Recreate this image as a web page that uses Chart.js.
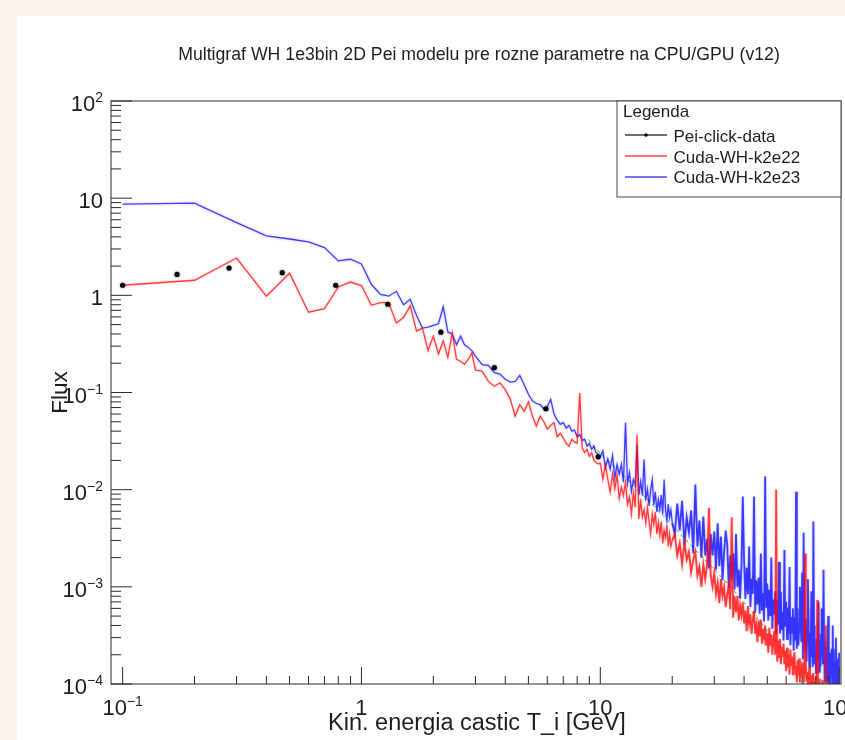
<!DOCTYPE html>
<html lang="sk">
<head>
<meta charset="utf-8">
<title>Multigraf WH 1e3bin 2D</title>
<script src="https://cdn.jsdelivr.net/npm/chart.js@4.4.0/dist/chart.umd.min.js"></script>
<style>
  html, body { margin: 0; padding: 0; background: #fcf1ed; }
  #graf { display: block; }
</style>
</head>
<body>
<canvas id="graf" width="845" height="740"></canvas>
<script>
// Texty grafu
const nazov = 'Multigraf WH 1e3bin 2D Pei modelu pre rozne parametre na CPU/GPU (v12)';
const osX = 'Kin. energia castic T_i [GeV]';
const osY = 'Flux';

// Rozsah osi (log)
const xMin = 0.0894;
const xMax = 101.8;
const yMin = 1e-4;
const yMax = 1e2;

// Hlavne dieliky a ich popisky [zaklad, exponent]
const xTicks = [0.1, 1, 10, 100];
const xTickLabels = [['10', '\u22121'], ['1', ''], ['10', ''], ['10', '2']];
const yTicks = [1e-4, 1e-3, 1e-2, 1e-1, 1, 10, 100];
const yTickLabels = [['10', '\u22124'], ['10', '\u22123'], ['10', '\u22122'], ['10', '\u22121'], ['1', ''], ['10', ''], ['10', '2']];
const minorSteps = [2, 3, 4, 5, 6, 7, 8, 9];

// Pei-click-data
const peiEnergia = [0.1, 0.169, 0.279, 0.466, 0.78, 1.29, 2.15, 3.6, 5.92, 9.8];
const peiFlux = [1.27, 1.64, 1.91, 1.71, 1.27, 0.81, 0.418, 0.18, 0.068, 0.0218];

// Energie binov (GeV), spolocne pre obe Cuda krivky
const energia = [
  0.1, 0.2, 0.3, 0.4, 0.5, 0.6, 0.7, 0.8, 0.9, 1.0,
  1.1, 1.2, 1.3, 1.4, 1.5, 1.6, 1.7, 1.8, 1.9, 2.0,
  2.1, 2.2, 2.3, 2.4, 2.5, 2.6, 2.7, 2.8, 2.9, 3.0,
  3.2, 3.4, 3.6, 3.8, 4.0, 4.2, 4.4, 4.6, 4.8, 5.0,
  5.2, 5.4, 5.6, 5.8, 6.0, 6.2, 6.4, 6.6, 6.8, 7.0,
  7.2, 7.4, 7.6, 7.8, 8.0, 8.2, 8.4, 8.6, 8.8, 9.0,
  9.2, 9.4, 9.6, 9.8,
  10, 10.25, 10.5, 10.75, 11, 11.25, 11.5, 11.75, 12, 12.25,
  12.5, 12.75, 13, 13.25, 13.5, 13.75, 14, 14.25, 14.5, 14.75,
  15, 15.25, 15.5, 15.75, 16, 16.25, 16.5, 16.75, 17, 17.25,
  17.5, 17.75, 18, 18.25, 18.5, 18.75, 19, 19.25, 19.5, 19.75,
  20,
  20.5, 21, 21.5, 22, 22.5, 23, 23.5, 24, 24.5, 25,
  25.5, 26, 26.5, 27, 27.5, 28, 28.5, 29, 29.5, 30,
  30.5, 31, 31.5, 32, 32.5, 33, 33.5, 34, 34.5, 35,
  35.5, 36, 36.5, 37, 37.5, 38, 38.5, 39, 39.5, 40,
  40.5, 41, 41.5, 42, 42.5, 43, 43.5, 44, 44.5, 45,
  45.5, 46, 46.5, 47, 47.5, 48, 48.5, 49, 49.5, 50,
  50.5, 51, 51.5, 52, 52.5, 53, 53.5, 54, 54.5, 55,
  55.5, 56, 56.5, 57, 57.5, 58, 58.5, 59, 59.5, 60,
  60.5, 61, 61.5, 62, 62.5, 63, 63.5, 64, 64.5, 65,
  65.5, 66, 66.5, 67, 67.5, 68, 68.5, 69, 69.5, 70,
  70.5, 71, 71.5, 72, 72.5, 73, 73.5, 74, 74.5, 75,
  75.5, 76, 76.5, 77, 77.5, 78, 78.5, 79, 79.5, 80,
  80.5, 81, 81.5, 82, 82.5, 83, 83.5, 84, 84.5, 85,
  85.5, 86, 86.5, 87, 87.5, 88, 88.5, 89, 89.5, 90,
  90.5, 91, 91.5, 92, 92.5, 93, 93.5, 94, 94.5, 95,
  95.5, 96, 96.5, 97, 97.5, 98, 98.5, 99, 99.5, 100
];

// Cuda-WH-k2e22 (cervena)
const fluxK2e22 = [
  1.27, 1.43, 2.42, 0.98, 1.69, 0.67, 0.73, 1.22, 1.37, 1.26,
  0.79, 0.84, 0.84, 0.52, 0.59, 0.78, 0.43, 0.46, 0.27, 0.38,
  0.25, 0.34, 0.23, 0.41, 0.22, 0.21, 0.195, 0.22, 0.256, 0.17,
  0.166, 0.13, 0.116, 0.126, 0.107, 0.085, 0.057, 0.075, 0.064, 0.08,
  0.057, 0.045, 0.057, 0.05, 0.042, 0.046, 0.049, 0.035, 0.038, 0.034,
  0.03, 0.028, 0.033, 0.031, 0.03, 0.099, 0.027, 0.024, 0.026, 0.022,
  0.024, 0.02, 0.019, 0.0185,
  0.0187, 0.0128, 0.0180, 0.0128, 0.0094, 0.0145, 0.0102, 0.0142, 0.0081, 0.0107,
  0.0087, 0.0120, 0.0070, 0.0084, 0.0056, 0.0092, 0.0066, 0.0370, 0.0050, 0.0080,
  0.0052, 0.0062, 0.0045, 0.0066, 0.0047, 0.0035, 0.0056, 0.0044, 0.0059, 0.0035,
  0.0046, 0.0034, 0.0047, 0.0028, 0.0038, 0.0032, 0.0043, 0.0026, 0.0035, 0.0026,
  0.0030,
  3.5e-3, 2.1e-3, 2.8e-3, 1.7e-3, 2.9e-3, 1.9e-3, 2.3e-3, 1.4e-3, 1.9e-3, 2.3e-3,
  1.3e-3, 1.6e-3, 1.0e-3, 1.7e-3, 1.2e-3, 1.7e-3, 6.5e-3, 1.3e-3, 1.0e-3, 1.4e-3,
  8.4e-4, 1.1e-3, 6.8e-4, 1.2e-3, 8.0e-4, 9.9e-4, 6.2e-4, 8.4e-4, 1.04e-3, 5.9e-4,
  5.2e-3, 4.8e-4, 8.0e-4, 5.5e-4, 8.1e-4, 4.5e-4, 6.4e-4, 5.1e-4, 6.9e-4, 4.2e-4,
  5.7e-4, 3.5e-4, 6.3e-4, 4.2e-4, 5.2e-4, 3.3e-4, 4.5e-4, 5.7e-4, 3.3e-4, 4.0e-4,
  2.7e-4, 4.5e-4, 3.1e-4, 4.6e-4, 2.6e-4, 3.7e-4, 3.0e-4, 4.0e-4, 2.5e-4, 3.3e-4,
  2.1e-4, 3.8e-4, 2.5e-4, 3.2e-4, 2.0e-4, 2.8e-4, 3.5e-4, 2.0e-4, 1.0e-2, 1.7e-4,
  2.8e-4, 1.9e-4, 2.9e-4, 1.6e-4, 2.4e-4, 1.9e-4, 2.6e-4, 1.6e-4, 2.2e-4, 1.35e-4,
  2.36e-4, 1.48e-4, 1.99e-4, 1.25e-4, 2.26e-4, 1.54e-4, 1.92e-4, 1.23e-4, 1.69e-4, 2.13e-4,
  1.24e-4, 1.52e-4, 1.04e-4, 1.75e-4, 1.22e-4, 1.83e-4, 1.04e-4, 1.50e-4, 1.20e-4, 1.64e-4,
  1.61e-4, 1.02e-4, 1.36e-4, 2.2e-3, 1.56e-4, 1.06e-4, 1.33e-4, 8.6e-5, 1.18e-4, 1.49e-4,
  8.7e-5, 1.07e-4, 7.4e-5, 1.24e-4, 8.6e-5, 1.30e-4, 7.4e-5, 1.07e-4, 8.6e-5, 1.17e-4,
  1.16e-4, 7.3e-4, 9.8e-5, 6.2e-5, 1.13e-4, 7.7e-5, 9.7e-5, 6.2e-5, 8.6e-5, 1.09e-4,
  6.4e-5, 7.9e-5, 5.4e-5, 9.2e-5, 6.4e-5, 4.0e-4, 5.5e-5, 7.9e-5, 6.4e-5, 8.75e-5,
  8.6e-5, 5.5e-5, 7.4e-5, 4.7e-5, 8.5e-5, 5.8e-5, 7.4e-5, 4.7e-5, 6.5e-5, 8.2e-5,
  4.8e-5, 6.0e-5, 4.1e-5, 7.0e-5, 4.9e-5, 7.4e-5, 4.2e-5, 6.1e-5, 4.9e-5, 6.7e-5
];

// Cuda-WH-k2e23 (modra)
const fluxK2e23 = [
  8.7, 8.9, 5.6, 4.1, 3.8, 3.55, 3.1, 2.26, 2.35, 2.1,
  1.3, 1.02, 0.98, 1.1, 0.8, 0.91, 0.62, 0.46, 0.47, 0.49,
  0.51, 0.76, 0.42, 0.4, 0.31, 0.38, 0.31, 0.29, 0.27, 0.237,
  0.194, 0.19, 0.16, 0.155, 0.137, 0.128, 0.13, 0.15, 0.12, 0.096,
  0.082, 0.077, 0.075, 0.068, 0.072, 0.085, 0.06, 0.052, 0.047, 0.049,
  0.043, 0.046, 0.04, 0.041, 0.035, 0.037, 0.032, 0.033, 0.028, 0.03,
  0.026, 0.028, 0.024, 0.023,
  0.0219, 0.0250, 0.0169, 0.0208, 0.0163, 0.0225, 0.0132, 0.0182, 0.0144, 0.0182,
  0.0119, 0.0487, 0.0116, 0.0150, 0.0096, 0.0127, 0.0112, 0.0290, 0.0088, 0.0121,
  0.0087, 0.0205, 0.0077, 0.0101, 0.0068, 0.0099, 0.0127, 0.0070, 0.0095, 0.0059,
  0.0079, 0.0063, 0.0088, 0.0056, 0.0127, 0.0062, 0.0048, 0.0071, 0.0052, 0.0062,
  0.0046,
  3.5e-3, 7.2e-3, 3.8e-3, 7.7e-3, 2.7e-3, 5.2e-3, 3.6e-3, 6.1e-3, 2.2e-3, 1.13e-2,
  2.6e-3, 4.8e-3, 2.0e-3, 5.3e-3, 2.1e-3, 3.1e-3, 1.55e-3, 3.5e-3, 2.1e-3, 3.7e-3,
  1.5e-3, 4.5e-3, 1.63e-3, 3.3e-3, 1.17e-3, 2.3e-3, 3.8e-3, 2.7e-3, 9.8e-4, 2.1e-3,
  1.19e-3, 2.2e-3, 9.4e-4, 3.5e-3, 1.0e-3, 1.5e-3, 7.6e-4, 1.7e-3, 8.5e-3, 1.84e-3,
  7.5e-4, 1.57e-3, 8.4e-4, 2.6e-3, 6.2e-4, 1.21e-3, 8.5e-4, 8.5e-3, 5.4e-4, 1.17e-3,
  6.6e-4, 1.24e-3, 5.3e-4, 2.2e-3, 5.7e-4, 8.6e-4, 4.4e-4, 1.37e-2, 6.1e-4, 1.08e-3,
  4.5e-4, 9.3e-4, 5.0e-4, 2.0e-3, 3.7e-4, 7.4e-4, 5.2e-4, 9.0e-4, 3.3e-4, 7.3e-4,
  4.1e-4, 1.8e-3, 3.3e-4, 8.9e-4, 3.6e-4, 5.5e-4, 2.8e-4, 2.4e-3, 3.9e-4, 7.0e-4,
  2.9e-4, 6.1e-4, 3.3e-4, 1.6e-3, 2.5e-4, 4.9e-4, 3.4e-4, 6.0e-4, 2.2e-4, 4.9e-4,
  2.8e-4, 9.5e-3, 2.3e-4, 6.0e-4, 2.5e-4, 3.7e-4, 1.0e-3, 4.4e-4, 2.7e-4, 1.4e-3,
  1.8e-4, 3.6e-3, 4.1e-4, 2.2e-4, 4.7e-4, 1.7e-4, 3.3e-4, 1.2e-3, 4.1e-4, 1.5e-4,
  3.3e-4, 1.9e-4, 9.0e-4, 3.5e-4, 1.5e-4, 4.7e-3, 4.0e-4, 1.6e-4, 2.5e-4, 1.3e-4,
  2.9e-4, 1.8e-4, 3.2e-4, 7.0e-4, 1.33e-4, 2.8e-4, 1.5e-4, 3.2e-4, 6.0e-4, 2.3e-4,
  1.6e-4, 1.5e-3, 2.8e-4, 1.03e-4, 2.3e-4, 1.3e-4, 2.4e-4, 1.06e-4, 2.8e-4, 5.0e-4,
  1.16e-4, 1.75e-4, 9.0e-5, 2.1e-4, 1.28e-4, 2.3e-4, 9.7e-5, 4.0e-4, 1.1e-4, 2.3e-4,
  8.3e-5, 1.65e-4, 1.17e-4, 3.0e-4, 7.6e-5, 1.7e-4, 9.6e-5, 1.83e-4, 7.9e-5, 2.1e-4
];

// zelena krivka pod ostatnymi (bez legendy)
const zelenaEnergia = [8.9, 10.1, 12, 17.4, 25, 35.2, 47, 60.7, 78.5, 90];
const zelenaFlux = [0.033, 0.023, 0.0155, 0.0062, 0.0024, 0.001, 0.00043, 0.00019, 0.0001, 0.000075];

const PISMO = '"Liberation Sans", Arial, Helvetica, sans-serif';

// Spoji dve polia do bodov {x, y}
function body(xs, ys) {
  return xs.map((x, i) => ({ x: x, y: ys[i] }));
}

// hustejsia oblast nad 20 GeV kreslena hrubsie
function hrubkaUseku(ctx) {
  return ctx.p0.parsed.x >= 20 ? 1.8 : 1.3;
}

// Popisok typu 10^n (zaklad + exponent)
function mocnina(c, popis, x, y, zarovnanie) {
  c.font = '22px ' + PISMO;
  const w1 = c.measureText(popis[0]).width;
  c.font = '14px ' + PISMO;
  const w2 = popis[1] ? c.measureText(popis[1]).width : 0;
  const start = zarovnanie === 'right' ? x - w1 - w2 : x - (w1 + w2) / 2;
  c.font = '22px ' + PISMO;
  c.fillText(popis[0], start, y);
  if (popis[1]) {
    c.font = '14px ' + PISMO;
    c.fillText(popis[1], start + w1, y - 9);
  }
}

// ROOT-ovsky ram, dieliky, popisy a legenda
const rootStyl = {
  id: 'rootStyl',
  beforeDraw(chart) {
    const c = chart.ctx;
    c.save();
    c.fillStyle = '#fcf1ed';
    c.fillRect(0, 0, chart.width, chart.height);
    c.fillStyle = '#ffffff';
    c.fillRect(17, 16, chart.width - 17, chart.height - 16);
    c.restore();
  },
  beforeDatasetDraw(chart, args) {
    // makky okraj ciar (povodny obrazok je rozmazany)
    const ds = chart.data.datasets[args.index];
    const c = chart.ctx;
    c.save();
    c.shadowColor = ds.tien || 'rgba(0,0,0,0)';
    c.shadowBlur = 2.5;
  },
  afterDatasetDraw(chart) {
    chart.ctx.restore();
  },
  afterDatasetsDraw(chart) {
    const c = chart.ctx;
    const a = chart.chartArea;
    const sx = chart.scales.x;
    const sy = chart.scales.y;
    c.save();

    // ram
    c.strokeStyle = '#2a2a2a';
    c.lineWidth = 1;
    c.strokeRect(a.left, a.top, a.right - a.left, a.bottom - a.top);

    // dieliky na osi x
    c.beginPath();
    xTicks.forEach(d => {
      const px = sx.getPixelForValue(d);
      c.moveTo(px, a.bottom);
      c.lineTo(px, a.bottom - 17);
      minorSteps.forEach(k => {
        const v = d * k;
        if (v < sx.max) {
          const p = sx.getPixelForValue(v);
          c.moveTo(p, a.bottom);
          c.lineTo(p, a.bottom - 8);
        }
      });
    });
    // dieliky na osi y
    yTicks.forEach(d => {
      const py = sy.getPixelForValue(d);
      c.moveTo(a.left, py);
      c.lineTo(a.left + 21, py);
      minorSteps.forEach(k => {
        const v = d * k;
        if (v < sy.max) {
          const p = sy.getPixelForValue(v);
          c.moveTo(a.left, p);
          c.lineTo(a.left + 10, p);
        }
      });
    });
    c.stroke();

    // popisky dielikov
    c.fillStyle = '#1e1e1e';
    c.textAlign = 'left';
    c.textBaseline = 'alphabetic';
    xTicks.forEach((d, i) => mocnina(c, xTickLabels[i], sx.getPixelForValue(d), 715, 'center'));
    yTicks.forEach((d, i) => mocnina(c, yTickLabels[i], 103, sy.getPixelForValue(d) + 10, 'right'));

    // nadpis
    c.textAlign = 'center';
    c.font = '17.7px ' + PISMO;
    c.fillText(nazov, 479, 60);

    // nazvy osi
    c.font = '23.5px ' + PISMO;
    c.fillText(osX, (a.left + a.right) / 2 + 1, 730);
    c.save();
    c.translate(66.5, (a.top + a.bottom) / 2);
    c.rotate(-Math.PI / 2);
    c.font = '22.5px ' + PISMO;
    c.fillText(osY, 0, 0);
    c.restore();

    // legenda
    const lx = 617;
    const ly = a.top;
    c.fillStyle = '#ffffff';
    c.fillRect(lx, ly, a.right - lx, 96);
    c.strokeStyle = '#444';
    c.strokeRect(lx, ly, a.right - lx, 96);
    c.textAlign = 'left';
    c.fillStyle = '#1e1e1e';
    c.font = '17px ' + PISMO;
    c.fillText('Legenda', 623, 117);
    chart.data.datasets.filter(ds => ds.label).forEach((ds, i) => {
      const base = 141.7 + i * 20.8;
      const yl = Math.round(base - 6.5);
      c.strokeStyle = ds.borderColor;
      c.lineWidth = 1.4;
      c.beginPath();
      c.moveTo(625, yl);
      c.lineTo(667, yl);
      c.stroke();
      if (ds.showLine === false) {
        c.fillStyle = ds.pointBackgroundColor;
        c.beginPath();
        c.arc(646, yl, 1.8, 0, Math.PI * 2);
        c.fill();
      }
      c.fillStyle = '#1e1e1e';
      c.fillText(ds.label, 673.5, base);
    });

    c.restore();
  }
};

const graf = new Chart(document.getElementById('graf'), {
  type: 'line',
  data: {
    datasets: [
      {
        label: 'Pei-click-data',
        data: body(peiEnergia, peiFlux),
        showLine: false,
        borderColor: 'rgba(0,0,0,0.75)',
        tien: 'rgba(0,0,0,0.5)',
        pointBackgroundColor: '#000000',
        pointBorderColor: '#000000',
        pointBorderWidth: 0,
        pointRadius: 2.6,
        order: 0
      },
      {
        label: 'Cuda-WH-k2e22',
        data: body(energia, fluxK2e22),
        borderColor: 'rgba(255,0,0,0.72)',
        tien: 'rgba(255,60,60,0.5)',
        borderWidth: 1.3,
        segment: { borderWidth: hrubkaUseku },
        pointRadius: 0,
        order: 1
      },
      {
        label: 'Cuda-WH-k2e23',
        data: body(energia, fluxK2e23),
        borderColor: 'rgba(0,0,255,0.72)',
        tien: 'rgba(60,60,255,0.5)',
        borderWidth: 1.3,
        segment: { borderWidth: hrubkaUseku },
        pointRadius: 0,
        order: 2
      },
      {
        label: '',
        data: body(zelenaEnergia, zelenaFlux),
        borderColor: '#33bb33',
        borderWidth: 1,
        borderDash: [4, 3],
        pointRadius: 0,
        order: 3
      }
    ]
  },
  options: {
    responsive: false,
    animation: false,
    devicePixelRatio: 1,
    events: [],
    layout: { padding: { left: 111, top: 101, right: 1, bottom: 56 } },
    elements: { line: { tension: 0 } },
    scales: {
      x: { type: 'logarithmic', min: xMin, max: xMax, display: false },
      y: { type: 'logarithmic', min: yMin, max: yMax, display: false }
    },
    plugins: {
      legend: { display: false },
      title: { display: false },
      tooltip: { enabled: false }
    }
  },
  plugins: [rootStyl]
});
</script>
</body>
</html>
